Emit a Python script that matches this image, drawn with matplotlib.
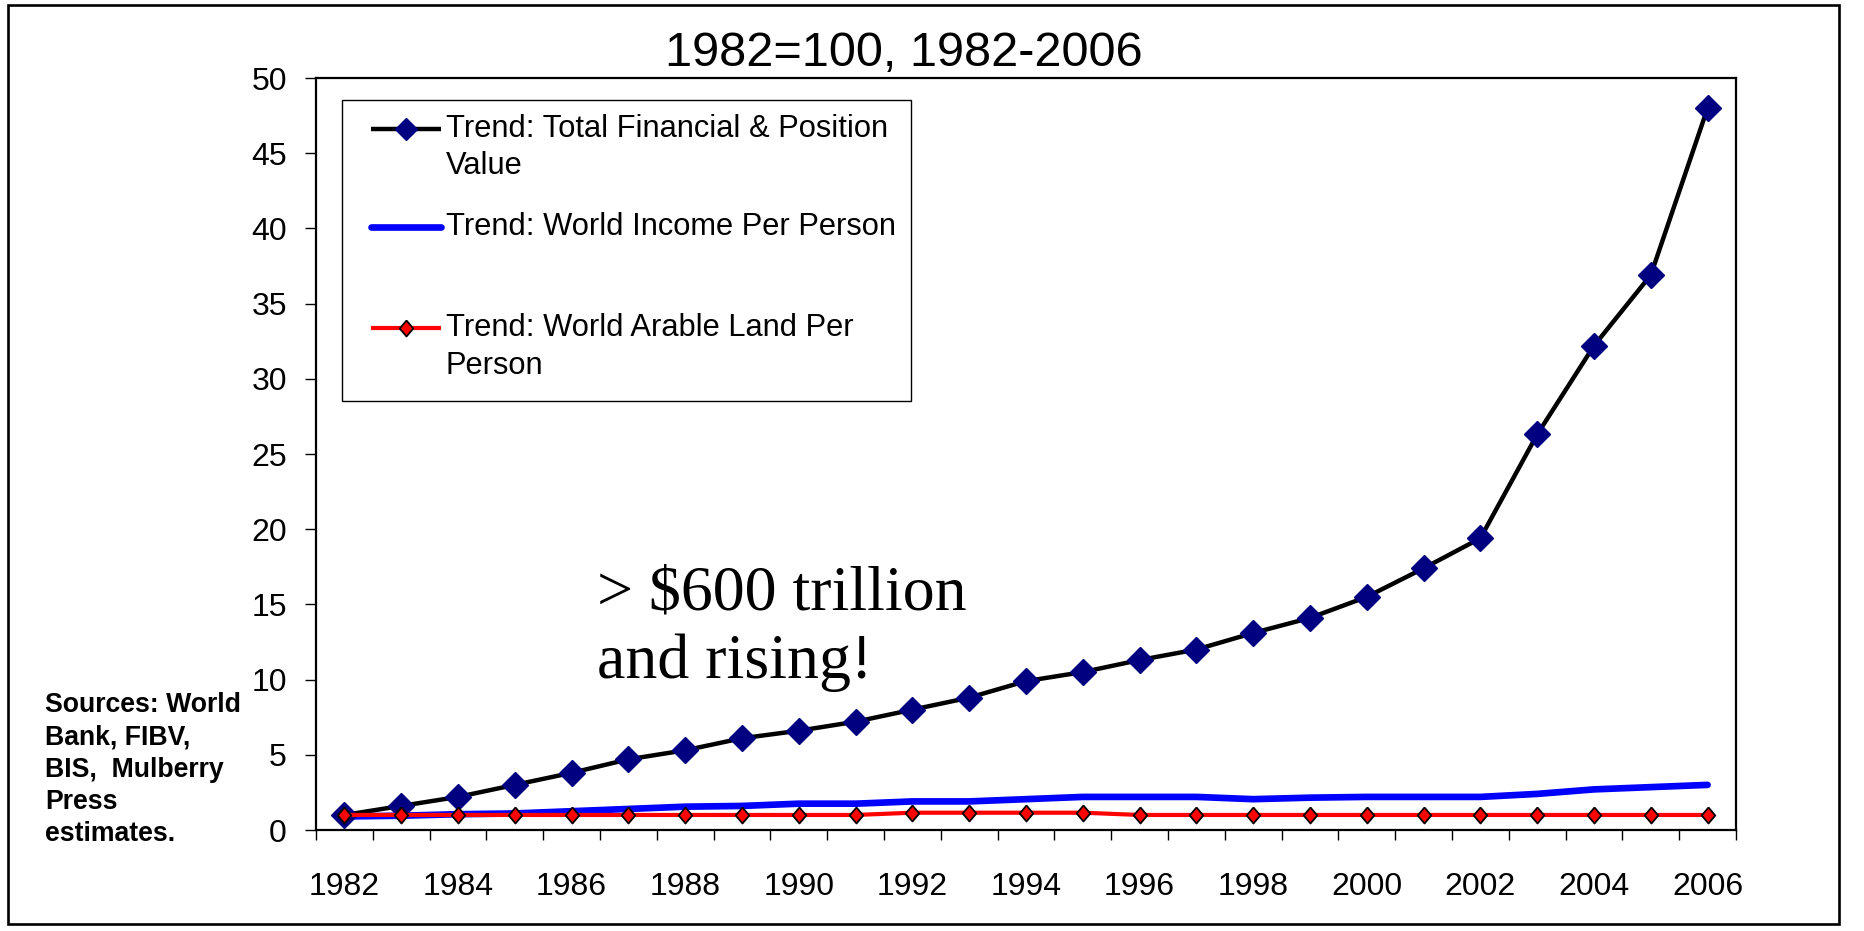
import matplotlib
matplotlib.use("Agg")
import matplotlib.pyplot as plt
from matplotlib.patches import Rectangle
import numpy as np

# ---- data -------------------------------------------------------------
years = [1982, 1983, 1984, 1985, 1986, 1987, 1988, 1989, 1990, 1991, 1992, 1993,
         1994, 1995, 1996, 1997, 1998, 1999, 2000, 2001, 2002, 2003, 2004, 2005, 2006]
financial_value = [1.0, 1.6, 2.2, 3.0, 3.8, 4.7, 5.3, 6.1, 6.6, 7.2, 8.0, 8.8,
                   9.9, 10.5, 11.3, 12.0, 13.1, 14.1, 15.5, 17.4, 19.4, 26.3, 32.2, 36.9, 48.0]
income_per_person = [0.9, 0.95, 1.05, 1.1, 1.25, 1.4, 1.55, 1.6, 1.75, 1.75, 1.9, 1.9,
                     2.05, 2.2, 2.2, 2.2, 2.05, 2.15, 2.2, 2.2, 2.2, 2.4, 2.7, 2.85, 3.0]
arable_land_per_person = [1.0, 1.0, 1.0, 1.0, 1.0, 1.0, 1.0, 1.0, 1.0, 1.0, 1.15, 1.15,
                          1.15, 1.15, 1.0, 1.0, 1.0, 1.0, 1.0, 1.0, 1.0, 1.0, 1.0, 1.0, 1.0]
series_labels = ["Trend: Total Financial & Position\nValue",
                 "Trend: World Income Per Person",
                 "Trend: World Arable Land Per\nPerson"]
y_ticks = [0, 5, 10, 15, 20, 25, 30, 35, 40, 45, 50]
title_text = "1982=100, 1982-2006"
note_text = "> $600 trillion\nand rising!"
source_text = "Sources: World\nBank, FIBV,\nBIS,  Mulberry\nPress\nestimates."

# ---- style ------------------------------------------------------------
plt.rcParams['font.family'] = ['Liberation Sans', 'DejaVu Sans']
W, H = 1864, 931
NAVY = '#000080'
BLUE = '#0000FF'
RED = '#FF0000'
# slightly tall diamond used for the arable-land markers
tall_diamond = [(0, 1), (0.85, 0), (0, -1), (-0.85, 0), (0, 1)]

fig = plt.figure(figsize=(W / 100, H / 100), dpi=100)
fig.patch.set_facecolor('white')

# plot area (pixel box converted to figure fractions)
L, R, T, B = 316, 1736, 78, 830
ax = fig.add_axes([L / W, (H - B) / H, (R - L) / W, (B - T) / H])

x = np.arange(len(years))
ax.plot(x, income_per_person, color=BLUE, lw=4.8, solid_capstyle='round', zorder=2)
ax.plot(x, financial_value, color='black', lw=3.2, marker='D', ms=13,
        mfc=NAVY, mec=NAVY, zorder=3)
ax.plot(x, arable_land_per_person, color=RED, lw=3.0, marker=tall_diamond, ms=11.5,
        mfc=RED, mec='black', mew=1.3, zorder=4)

ax.set_xlim(-0.5, len(years) - 0.5)
ax.set_ylim(0, 50)
ax.set_yticks(y_ticks)
ax.set_yticklabels([str(v) for v in y_ticks])
ax.set_xticks(x[::2])
ax.set_xticklabels([str(y) for y in years[::2]])
ax.set_xticks(np.arange(-0.5, len(years), 1.0), minor=True)
ax.tick_params(axis='x', which='major', length=0, pad=30, labelsize=23)
ax.tick_params(axis='x', which='minor', length=7.5, width=1, direction='out')
ax.tick_params(axis='y', which='major', length=8, width=1, direction='out',
               pad=13, labelsize=23)
for sp in ax.spines.values():
    sp.set_linewidth(1.6)
    sp.set_color('black')

# overlay in pixel coordinates for frame, title, legend and notes
ov = fig.add_axes([0, 0, 1, 1], zorder=5)
ov.set_xlim(0, W)
ov.set_ylim(H, 0)
ov.axis('off')
ov.patch.set_visible(False)

ov.add_patch(Rectangle((8, 5), 1831, 919, fill=False, edgecolor='black', lw=1.9))
ov.text(904, 66, title_text, ha='center', va='baseline', fontsize=35)

# legend box
ov.add_patch(Rectangle((342, 100), 569, 301, facecolor='white', edgecolor='black', lw=1))
hx0, hx1, hxm, tx = 371, 441, 406, 446
rows = [129, 227, 328]
ov.plot([hx0, hx1], [rows[0], rows[0]], color='black', lw=3.2, solid_capstyle='butt')
ov.plot([hxm], [rows[0]], marker='D', ms=11, mfc=NAVY, mec=NAVY)
ov.plot([hx0, hx1], [rows[1], rows[1]], color=BLUE, lw=4.8, solid_capstyle='round')
ov.plot([hx0, hx1], [rows[2], rows[2]], color=RED, lw=3.0, solid_capstyle='butt')
ov.plot([hxm], [rows[2]], marker=tall_diamond, ms=11.5, mfc=RED, mec='black', mew=1.3)
line_gap = 37.5
for label, yc in zip(series_labels, rows):
    for k, part in enumerate(label.split('\n')):
        ov.text(tx, yc + k * line_gap, part, ha='left', va='center', fontsize=22.2)

# annotation inside the plot
ov.text(597, 609, note_text.split('\n')[0], ha='left', va='baseline',
        fontsize=46, family='Liberation Serif')
ov.text(597, 678, note_text.split('\n')[1], ha='left', va='baseline',
        fontsize=46, family='Liberation Serif')

# source note at lower left
for k, part in enumerate(source_text.split('\n')):
    ov.text(45, 712 + k * 32.3, part, ha='left', va='baseline',
            fontsize=19.2, fontweight='bold')

fig.savefig('out.png', dpi=100, facecolor='white')
